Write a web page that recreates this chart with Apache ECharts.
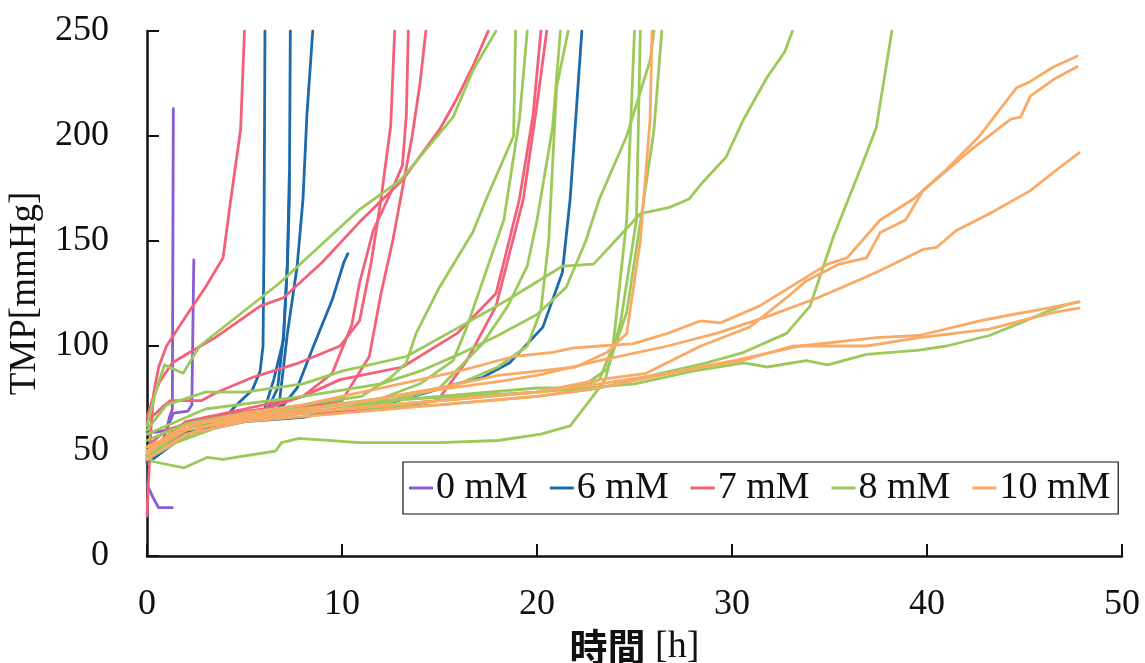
<!DOCTYPE html>
<html>
<head>
<meta charset="utf-8">
<script src="https://cdn.jsdelivr.net/npm/echarts@6/dist/echarts.min.js"></script>
<style>
  html, body { margin: 0; padding: 0; background: #fff; }
  #chart { width: 1145px; height: 663px; }
</style>
</head>
<body>
<div id="chart"></div>
<script>
// TMP [mmHg] against elapsed time [h]; each run is a list of [hour, TMP] points.

const xTicks = [0, 10, 20, 30, 40, 50];
const yTicks = [0, 50, 100, 150, 200, 250];
const legendNames = ['0 mM', '6 mM', '7 mM', '8 mM', '10 mM'];

// 0 mM runs
const mM0_a = [[0,59],[0.5,59],[1.0,60],[1.15,66],[1.3,70],[1.35,213]];
const mM0_b = [[0,44],[0.4,48],[0.8,55],[1.1,62],[1.35,68],[2.1,69],[2.3,72],[2.4,141]];
const mM0_c = [[0,34],[0.3,28],[0.6,23],[1.3,23]];

// 6 mM runs
const mM6_a = [[0,46],[1,55],[2,60],[3,63],[4,66],[4.6,72],[5.4,79],[5.8,88],[5.95,100],[6.0,150],[6.05,250]];
const mM6_b = [[0,45],[1,55],[3,62],[5,65],[6.2,70],[6.7,80],[7.0,105],[7.2,140],[7.3,182]];
const mM6_c = [[0,47],[1,56],[3,62],[5,66],[6,69],[6.5,84],[7.0,103],[7.2,138],[7.3,170],[7.35,250]];
const mM6_d = [[0,48],[2,60],[4,64],[6,68],[6.8,74],[7.2,106],[7.7,138],[8.0,170],[8.2,210],[8.5,250]];
const mM6_e = [[0,45],[2,58],[4,63],[6,67],[7.0,72],[7.7,80],[8.5,99],[9.5,122],[10.1,140],[10.3,144]];
const mM6_f = [[0,44],[2,58],[5,64],[8,66],[10,70],[11.6,73],[12.5,73],[15.9,82],[17.2,85],[18.6,92],[20.3,109],[21.3,135],[21.7,170],[22.0,210],[22.3,250]];

// 7 mM runs
const mM7_a = [[0,19],[0.1,40],[0.2,60],[0.35,78],[0.6,90],[1.0,100],[2.2,117],[3.0,128],[3.9,142],[4.3,170],[4.8,203],[5.0,250]];
const mM7_b = [[0,66],[0.3,75],[0.65,83],[1.3,92],[2.2,97],[3.5,104],[5.8,119],[7.0,123],[9,140],[10.9,159],[13.1,179],[15.0,203],[15.9,218],[16.8,235],[17.5,250]];
const mM7_c = [[0,64],[0.8,71],[1.2,74],[2.8,74],[3.6,78],[5.4,85],[7.8,92],[9.9,100],[10.9,112],[11.5,140],[12.0,170],[12.5,205],[12.7,250]];
const mM7_d = [[0,52],[1,60],[3,66],[6,70],[8,76],[9.5,87],[10.5,110],[10.9,130],[11.6,155],[12.6,175],[13.1,186],[13.3,210],[13.4,250]];
const mM7_e = [[0,50],[2,64],[5,68],[8,71],[10,74],[11.4,95],[12.0,125],[12.6,150],[13.0,170],[13.6,200],[14.0,225],[14.3,250]];
const mM7_f = [[0,48],[2,64],[5,70],[8,76],[9.9,84],[13.1,90],[15.9,106],[17.9,125],[19.1,170],[19.8,210],[20.2,250]];
const mM7_g = [[0,46],[2,60],[5,66],[8,68],[12,70],[14.9,74],[16.4,93],[17.9,119],[19.3,170],[20.0,215],[20.5,250]];

// 8 mM runs
const mM8_a = [[0,62],[0.5,80],[0.9,91],[1.85,87],[2.7,100],[6.8,130],[10.9,165],[13,179],[15.7,209],[16.7,231],[17.9,250]];
const mM8_b = [[0,50],[2,62],[5,68],[8,72],[11,76],[12.5,85],[13.3,92],[13.8,106],[15.0,128],[16.7,154],[17.4,170],[18.8,200],[18.9,250]];
const mM8_c = [[0,48],[2,60],[5,66],[8,70],[12,75],[14,82],[15.7,93],[16.4,109],[18.3,160],[19.1,208],[19.5,250]];
const mM8_d = [[0,46],[3,62],[8,68],[12,72],[15,80],[17.2,101],[18.5,119],[19.5,138],[20.0,160],[20.8,204],[21.2,250]];
const mM8_e = [[0,47],[3,62],[8,68],[12,73],[16,82],[18,90],[19.5,100],[20.2,117],[20.6,150],[21.0,223],[21.6,250]];
const mM8_f = [[0,60],[1,72],[3,78],[5,78],[8,82],[10,88],[13.3,95],[16.4,111],[18.5,122],[21.3,138],[22.9,139],[25.3,163],[26.8,166],[27.8,170],[28.5,178],[29.7,190],[30.6,208],[31.8,228],[32.7,240],[33.1,250]];
const mM8_g = [[0,48],[0.3,45],[1.9,42],[3.1,47],[3.9,46],[6.6,50],[6.9,54],[7.8,56],[10.9,54],[15,54],[18,55],[20.2,58],[21.7,62],[22.7,74],[23.5,84],[24.3,112],[25.1,160],[25.3,250]];
const mM8_h = [[0,55],[2,63],[5,68],[10,72],[15,76],[20,80],[22,80],[23.2,84],[23.9,100],[24.6,160],[25.0,250]];
const mM8_i = [[0,52],[3,64],[8,70],[12,74],[16,76],[20,78],[22.5,82],[23.6,89],[24.6,116],[25.4,165],[26.0,203],[26.4,250]];
const mM8_j = [[0,58],[3,70],[8,76],[12,82],[14,88],[16,96],[18,105],[20,115],[21.5,128],[22.5,150],[23.2,170],[24.6,200],[25.8,236],[26.0,250]];
const mM8_k = [[0,50],[2,62],[5,67],[10,70],[15,72],[20,76],[23.2,80],[25.4,85],[28.7,92],[30.6,97],[32.8,106],[34.0,119],[35.2,152],[36.7,187],[37.4,204],[38.2,250]];
const mM8_l = [[0,49],[5,66],[10,70],[15,74],[20,78],[25,82],[28,88],[30.6,92],[31.8,90],[33.8,93],[34.9,91],[36.9,96],[39.6,98],[41.0,100],[43.2,105],[44.8,111],[46.3,117],[47.3,120],[47.8,121]];

// 10 mM runs
const mM10_a = [[0,50],[2,62],[5,67],[10,72],[15,80],[18,86],[20,88],[22,90],[23.6,97],[24.6,106],[25.3,150],[25.8,208],[25.9,250]];
const mM10_b = [[0,48],[1,57],[2,62],[5,68],[8,72],[10,76],[13,82],[16,88],[18.8,95],[20.8,97],[21.8,99],[23.2,100],[24.9,101],[26.7,106],[28.4,112],[29.4,111],[31.4,119],[33.5,131],[34.9,139],[35.9,142],[37.6,160],[39.3,170],[41.0,184],[42.7,200],[43.6,211],[44.6,223],[45.3,226],[46.5,233],[47.7,238]];
const mM10_c = [[0,50],[2,62],[5,67],[10,72],[14,78],[18,83],[20,86],[23.2,93],[26.7,100],[29.2,106],[31.8,114],[34.4,123],[36.9,133],[37.6,136],[39.8,146],[40.5,147],[41.5,155],[43.2,163],[45.3,174],[46.8,185],[47.8,192]];
const mM10_d = [[0,52],[2,60],[5,66],[10,70],[15,74],[20,78],[23.2,84],[25.6,87],[28.4,100],[30.9,109],[32.8,123],[33.8,131],[35.5,139],[36.9,142],[37.6,154],[38.9,160],[39.8,174],[42.2,193],[44.3,208],[44.8,209],[45.3,219],[46.5,227],[47.7,233]];
const mM10_e = [[0,50],[2,60],[5,65],[10,70],[15,74],[20,78],[23.2,82],[26.7,87],[30.1,93],[33.5,100],[37.4,104],[39.6,105],[42.7,112],[44.4,115],[46.2,118],[47.8,121]];
const mM10_f = [[0,46],[2,58],[5,64],[10,68],[15,72],[20,76],[23.2,80],[28.4,90],[30.5,93],[33.1,100],[36.9,100],[39.6,104],[43.2,108],[44.8,112],[46.5,116],[47.8,118]];

const groups = [
  { name: legendNames[0], color: '#8a5cd4', runs: [mM0_a, mM0_b, mM0_c] },
  { name: legendNames[1], color: '#1d6aab', runs: [mM6_a, mM6_b, mM6_c, mM6_d, mM6_e, mM6_f] },
  { name: legendNames[2], color: '#f2607a', runs: [mM7_a, mM7_b, mM7_c, mM7_d, mM7_e, mM7_f, mM7_g] },
  { name: legendNames[3], color: '#9cc95a', runs: [mM8_a, mM8_b, mM8_c, mM8_d, mM8_e, mM8_f, mM8_g, mM8_h, mM8_i, mM8_j, mM8_k, mM8_l] },
  { name: legendNames[4], color: '#f8aa66', runs: [mM10_a, mM10_b, mM10_c, mM10_d, mM10_e, mM10_f] }
];

const series = [];
groups.forEach((g, gi) => {
  g.runs.forEach(run => {
    series.push({
      type: 'line',
      name: g.name,
      data: run,
      symbol: 'none',
      showSymbol: false,
      z: 2 + gi,
      lineStyle: { color: g.color, width: 2.8, cap: 'round', join: 'round' },
      itemStyle: { color: g.color }
    });
  });
});

const serif = "'Liberation Serif', 'Times New Roman', serif";

const chart = echarts.init(document.getElementById('chart'), null, { renderer: 'canvas' });
chart.setOption({
  animation: false,
  backgroundColor: '#fff',
  grid: { left: 147, right: 23, top: 31, bottom: 107, containLabel: false, outerBoundsMode: 'none' },
  legend: {
    data: legendNames.map(n => ({ name: n, icon: 'rect' })),
    left: 403, top: 462,
    orient: 'horizontal',
    itemWidth: 24, itemHeight: 3, itemGap: 22,
    padding: [7, 8, 7, 6],
    borderColor: '#111', borderWidth: 1.2,
    backgroundColor: '#fff',
    selectedMode: false,
    textStyle: { fontFamily: serif, fontSize: 38, color: '#111', padding: [0, 0, 0, -2] }
  },
  xAxis: {
    type: 'value', min: 0, max: 50, interval: 10,
    name: '{a|時間}{b| [h]}',
    nameLocation: 'middle', nameGap: 66,
    nameTextStyle: {
      rich: {
        a: { fontFamily: "'Noto Sans CJK JP', sans-serif", fontWeight: 'bold', fontSize: 38, color: '#111' },
        b: { fontFamily: serif, fontSize: 38, color: '#111' }
      }
    },
    axisLine: { onZero: false, lineStyle: { color: '#111', width: 2.5 } },
    axisTick: { inside: true, length: 12, lineStyle: { color: '#111', width: 2 } },
    axisLabel: { margin: 31, fontFamily: serif, fontSize: 36, color: '#111',
      formatter: v => xTicks.includes(v) ? String(v) : '' },
    splitLine: { show: false }
  },
  yAxis: {
    type: 'value', min: 0, max: 250, interval: 50,
    name: 'TMP[mmHg]',
    nameLocation: 'middle', nameGap: 98,
    nameTextStyle: { fontFamily: serif, fontSize: 37, color: '#111' },
    axisLine: { show: true, onZero: false, lineStyle: { color: '#111', width: 2.5 } },
    axisTick: { show: true, inside: true, length: 12, lineStyle: { color: '#111', width: 2 } },
    axisLabel: { margin: 38, fontFamily: serif, fontSize: 36, color: '#111',
      formatter: v => yTicks.includes(v) ? String(v) : '' },
    splitLine: { show: false }
  },
  series: series
});
</script>
</body>
</html>
